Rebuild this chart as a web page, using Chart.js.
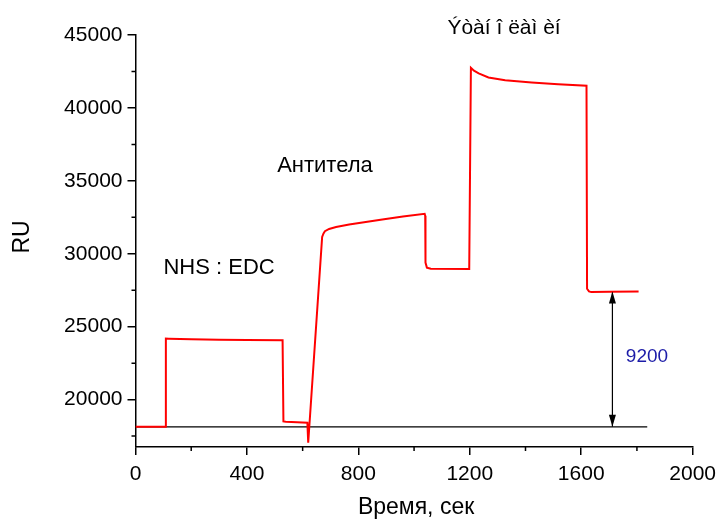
<!DOCTYPE html>
<html><head><meta charset="utf-8">
<script src="https://cdn.jsdelivr.net/npm/chart.js@4.4.0/dist/chart.umd.min.js"></script>
<style>html,body{margin:0;padding:0;background:#fff}#wrap{width:723px;height:520px}</style>
</head><body><div id="wrap"><canvas id="c" width="723" height="520"></canvas></div>
<script>
// ---- data ----
const timeSec = [0, 107, 109, 120, 200, 300, 400, 528, 531, 540, 580, 617, 620, 670, 675, 680, 695, 720, 767, 886, 960, 1038, 1040, 1041, 1046, 1060, 1198, 1204, 1215, 1232, 1267, 1327, 1422, 1517, 1619, 1621, 1628, 1636, 1700, 1806];
const ruValues = [18130, 18130, 24180, 24170, 24130, 24110, 24090, 24075, 18500, 18480, 18440, 18410, 17040, 31150, 31400, 31550, 31700, 31830, 32000, 32350, 32560, 32740, 32600, 29400, 29050, 28970, 28960, 42750, 42550, 42370, 42090, 41900, 41750, 41630, 41520, 27600, 27420, 27370, 27390, 27410];
const baselineTime = [0, 1837];
const baselineRU = [18130, 18130];
const arrowTime = [1712, 1712];
const arrowRU = [18130, 27410];
const xTickValues = [0, 400, 800, 1200, 1600, 2000];
const xMinorValues = [200, 600, 1000, 1400, 1800];
const yTickValues = [20000, 25000, 30000, 35000, 40000, 45000];
const yMinorValues = [17500, 22500, 27500, 32500, 37500, 42500];
const noteTexts = ['NHS : EDC', 'Антитела', 'Ýòàí î ëàì èí', '9200'];
const noteTime = [300, 680, 1323, 1836];
const noteRU = [29000, 36000, 45450, 22925];
const xTitle = 'Время, сек';
const yTitle = 'RU';

const FONT = '"Liberation Sans", Arial, sans-serif';

const extras = {
  id: 'extras',
  afterDraw(chart) {
    const ctx = chart.ctx, xs = chart.scales.x, ys = chart.scales.y;
    ctx.save();
    // minor ticks
    ctx.strokeStyle = '#000'; ctx.lineWidth = 1.5;
    ctx.beginPath();
    xMinorValues.forEach(v => { const px = xs.getPixelForValue(v); ctx.moveTo(px, xs.top); ctx.lineTo(px, xs.top + 4); });
    yMinorValues.forEach(v => { const py = ys.getPixelForValue(v); ctx.moveTo(ys.right, py); ctx.lineTo(ys.right - 4, py); });
    ctx.stroke();
    // arrow heads
    const ax = xs.getPixelForValue(arrowTime[0]);
    const yLow = ys.getPixelForValue(arrowRU[0]);
    const yHigh = ys.getPixelForValue(arrowRU[1]);
    ctx.fillStyle = '#000';
    ctx.beginPath(); ctx.moveTo(ax, yHigh); ctx.lineTo(ax - 3.5, yHigh + 12); ctx.lineTo(ax + 3.5, yHigh + 12); ctx.closePath(); ctx.fill();
    ctx.beginPath(); ctx.moveTo(ax, yLow); ctx.lineTo(ax - 3.5, yLow - 12); ctx.lineTo(ax + 3.5, yLow - 12); ctx.closePath(); ctx.fill();
    // annotations
    ctx.textAlign = 'center'; ctx.textBaseline = 'middle';
    const sizes = [22, 22, 21, 19];
    const colors = ['#000', '#000', '#000', '#1c1ca8'];
    noteTexts.forEach((t, i) => {
      ctx.font = sizes[i] + 'px ' + FONT;
      ctx.fillStyle = colors[i];
      ctx.fillText(t, xs.getPixelForValue(noteTime[i]), ys.getPixelForValue(noteRU[i]));
    });
    // axis titles
    ctx.fillStyle = '#000';
    ctx.font = '23px ' + FONT;
    ctx.fillText(xTitle, (xs.left + xs.right) / 2 + 2, chart.height - 12);
    ctx.translate(22.5, 237);
    ctx.rotate(-Math.PI / 2);
    ctx.fillText(yTitle, 0, 0);
    ctx.restore();
  }
};

new Chart(document.getElementById('c'), {
  type: 'scatter',
  data: {
    datasets: [
      { data: timeSec.map((t, i) => ({ x: t, y: ruValues[i] })), showLine: true, borderColor: '#ff0000', borderWidth: 2, pointRadius: 0, tension: 0 },
      { data: baselineTime.map((t, i) => ({ x: t, y: baselineRU[i] })), showLine: true, borderColor: '#000', borderWidth: 1.2, pointRadius: 0 },
      { data: arrowTime.map((t, i) => ({ x: t, y: arrowRU[i] })), showLine: true, borderColor: '#000', borderWidth: 1.2, pointRadius: 0 }
    ]
  },
  options: {
    responsive: false,
    devicePixelRatio: 1,
    animation: false,
    events: [],
    layout: { padding: { left: 0, right: 28, top: 35, bottom: 0 } },
    plugins: { legend: { display: false }, tooltip: { enabled: false } },
    scales: {
      x: {
        type: 'linear', min: 0, max: 2000,
        afterFit: s => { s.height = 73; },
        afterBuildTicks: s => { s.ticks = xTickValues.map(v => ({ value: v })); },
        grid: { drawOnChartArea: false, drawTicks: true, tickLength: 8, color: '#000', lineWidth: 1.5 },
        border: { display: true, color: '#000', width: 1.5 },
        ticks: { color: '#000', font: { family: FONT, size: 21 }, padding: 7, maxRotation: 0, callback: v => String(v) }
      },
      y: {
        type: 'linear', min: 16750, max: 45000,
        afterFit: s => { s.width = 135.5; },
        afterBuildTicks: s => { s.ticks = yTickValues.map(v => ({ value: v })); },
        grid: { drawOnChartArea: false, drawTicks: true, tickLength: 8, color: '#000', lineWidth: 1.5 },
        border: { display: true, color: '#000', width: 1.5 },
        ticks: { color: '#000', font: { family: FONT, size: 21 }, padding: 5, callback: v => String(v) }
      }
    }
  },
  plugins: [extras]
});
</script></body></html>
